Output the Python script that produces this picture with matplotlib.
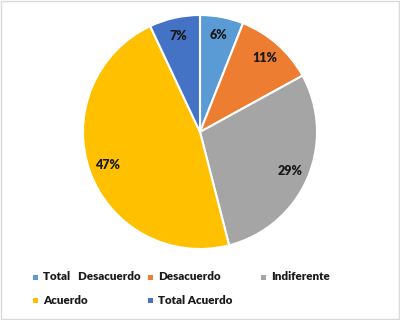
import matplotlib.pyplot as plt
from matplotlib.patches import Rectangle

categorias = ["Total   Desacuerdo", "Desacuerdo", "Indiferente", "Acuerdo", "Total Acuerdo"]
porcentajes = [6, 11, 29, 47, 7]
colores = ["#5B9BD5", "#ED7D31", "#A5A5A5", "#FFC000", "#4472C4"]

plt.rcParams['font.family'] = ['Lato', 'DejaVu Sans']

fig = plt.figure(figsize=(4, 3.2), dpi=100)
fig.patch.set_facecolor('white')

# marco gris claro alrededor del gráfico
fig.patches.append(Rectangle((0.002, 0.003), 0.995, 0.994, transform=fig.transFigure,
                             fill=False, edgecolor='#D9D9D9', linewidth=1))

ax = fig.add_axes([0.5 - 0.2925, 0.5875 - 0.365625, 0.585, 0.73125])
wedges, texts, autotexts = ax.pie(
    porcentajes, colors=colores, startangle=90, counterclock=False,
    autopct='%1.0f%%', pctdistance=0.84,
    wedgeprops=dict(edgecolor='white', linewidth=1.5),
    textprops=dict(fontsize=9, fontweight='heavy', color='#1a1a1a'))
ax.set_xlim(-1, 1)
ax.set_ylim(-1, 1)
ax.set_aspect('equal')

# leyenda manual en 3 columnas
col_x = [33, 148, 261]
fila_y = [277, 300]
for i, (cat, col) in enumerate(zip(categorias, colores)):
    x = col_x[i % 3]
    y = fila_y[i // 3]
    fig.patches.append(Rectangle((x / 400, 1 - (y + 3) / 320), 5 / 400, 5 / 320,
                                 transform=fig.transFigure, facecolor=col, edgecolor='none'))
    fig.text((x + 10) / 400, 1 - y / 320, cat, fontsize=8.4, fontweight='heavy',
             color='#1a1a1a', va='center', ha='left')

plt.savefig("out.png", dpi=100)
